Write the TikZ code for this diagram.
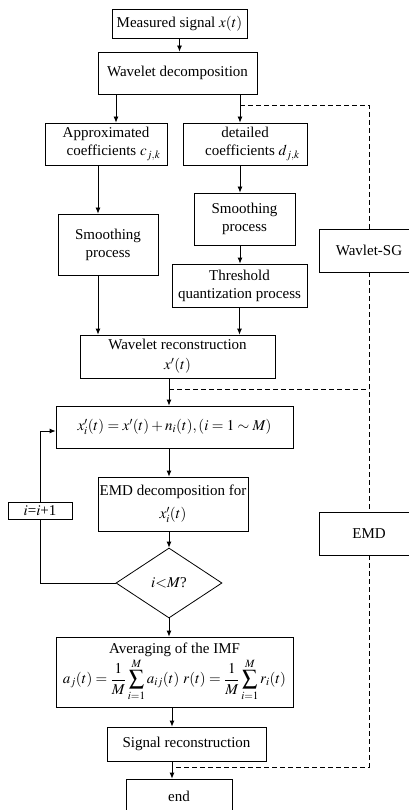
\documentclass[tikz,border=0pt]{standalone}
\usepackage{amsmath}
\usepackage{amssymb}
\usepackage{mathptmx}
\usepackage{fontspec}
\setmainfont{Liberation Serif}
\usepackage{tikz}
\usetikzlibrary{arrows.meta,shapes.geometric}

\tikzset{
  box/.style={draw=black, line width=0.8pt, fill=white, align=center, inner sep=1pt,
    font=\fontsize{15}{18}\selectfont},
  arr/.style={line width=0.8pt, -{Latex[length=6pt,width=5pt]}},
  plain/.style={line width=0.8pt},
  dash line/.style={line width=0.8pt, dash pattern=on 5pt off 3pt}
}

\begin{document}
\begin{tikzpicture}[x=1pt,y=-1pt]
     \useasboundingbox (0,0) rectangle (409,810);

     % wavelet part
     \node[box, minimum width=135, minimum height=29] (meas) at (179.5,23.5) {Measured signal $x(t)$};
     \node[box, minimum width=159, minimum height=42] (wdec) at (177.5,73) {Wavelet decomposition};
     \node[box, minimum width=122, minimum height=42] (approx) at (106,144) {Approximated\\ \quad coefficients $c_{j,k}$};
     \node[box, minimum width=124, minimum height=42] (detail) at (245,144) {detailed\\ \quad coefficients $d_{j,k}$};
     \node[box, minimum width=100, minimum height=61] (smoothL) at (108,244.5) {Smoothing\\ process};
     \node[box, minimum width=101, minimum height=52] (smoothR) at (244.5,219) {Smoothing\\ process};
     \node[box, minimum width=135, minimum height=43] (thresh) at (239.5,285.5) {Threshold\\ quantization process};
     \node[box, minimum width=195, minimum height=43] (wrec) at (177.5,356.5) {Wavelet reconstruction\\[2pt] $x'(t)$};
     \node[box, minimum width=100, minimum height=43] (wsg) at (369,250.5) {Wavlet-SG};

     % EMD part
     \node[box, minimum width=237, minimum height=42] (xi) at (174.5,427) {$x_i'(t)=x'(t)+n_i(t),(i=1\sim M)$};
     \node[box, minimum width=150, minimum height=54] (emdd) at (173,504) {EMD decomposition for\\[5pt] $x_i'(t)$};
     \node[box, shape=diamond, aspect=1.5, minimum width=106, minimum height=70, inner sep=0pt] (cond) at (169,583) {$i$$<$$M$?};
     \node[box, minimum width=64, minimum height=17] (inc) at (40,510.5) {$i$=$i$+1};
     \node[box, minimum width=100, minimum height=43] (emd) at (369,533.5) {EMD};
     \node[box, minimum width=237, minimum height=70] (avg) at (174.5,672) {Averaging of the IMF\\[1pt]
        $\displaystyle a_j(t)=\frac{1}{M}\sum_{i=1}^{M}a_{ij}(t)\ r(t)=\frac{1}{M}\sum_{i=1}^{M}r_i(t)$};
     \node[box, minimum width=159, minimum height=34] (srec) at (186.5,744) {Signal reconstruction};
     \node[box, minimum width=106, minimum height=34] (endb) at (179,796) {end};

     \coordinate (tapA) at (240,105);
     \coordinate (tapB) at (169,389);
     \coordinate (tapC) at (172,767);

     \draw[arr] (meas.south) -- (meas.south |- wdec.north);
     \draw[arr] ([xshift=10]approx.north |- wdec.south) -- ([xshift=10]approx.north);
     \draw[arr] ([xshift=-5]detail.north |- wdec.south) -- ([xshift=-5]detail.north);
     \draw[arr] ([xshift=-5]detail.south) -- ([xshift=-5]detail.south |- smoothR.north);
     \draw[arr] ([xshift=-8]approx.south) -- ([xshift=-8]approx.south |- smoothL.north);
     \draw[arr] ([xshift=-10]smoothL.south) -- ([xshift=-10]smoothL.south |- wrec.north);
     \draw[arr] ([xshift=-4.5]smoothR.south) -- ([xshift=-4.5]smoothR.south |- thresh.north);
     \draw[arr] (thresh.south) -- (thresh.south |- wrec.north);
     \draw[arr] (wrec.south -| tapB) -- (tapB |- xi.north);
     \draw[arr] (xi.south -| tapB) -- (tapB |- emdd.north);
     \draw[arr] (emdd.south -| cond.north) -- (cond.north);
     \draw[arr] (cond.south) -- (cond.south |- avg.north);
     \draw[arr] (avg.south -| tapC) -- (tapC |- srec.north);
     \draw[arr] (srec.south -| tapC) -- (tapC |- endb.north);

     % loop back
     \draw[plain] (cond.west) -| (inc.south);
     \draw[arr] (inc.north) |- ([yshift=-4]xi.west);

     % dashed frames
     \draw[dash line] (tapA) -| (wsg.north);
     \draw[dash line] (wsg.south) -- (emd.north);
     \draw[dash line] (tapB) -- (tapB -| emd.north);
     \draw[dash line] (emd.south) |- ([xshift=3]tapC);
\end{tikzpicture}
\end{document}
